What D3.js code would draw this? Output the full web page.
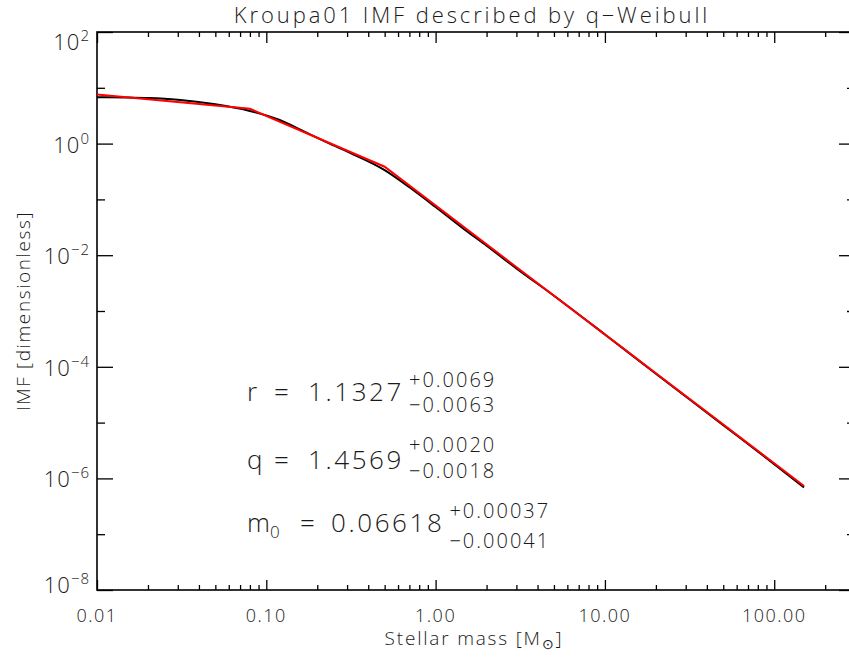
<!DOCTYPE html>
<meta charset="utf-8">
<style>
body { margin: 0; background: #fff; }
svg text { font-family: "Open Sans", "DejaVu Sans", sans-serif; font-weight: 300; fill: #1a1a1a; }
.tick line { stroke: #000; stroke-width: 1.3; }
.frame { fill: none; stroke: #000; stroke-width: 1.6; }
.fit { fill: none; stroke: #000; stroke-width: 2; }
.kroupa { fill: none; stroke: #ff0000; stroke-width: 2; }
.num { font-variant-numeric: tabular-nums; }
</style>
<body></body>
<script src="https://d3js.org/d3.v7.min.js"></script>
<script>
// Kroupa (2001) broken power law, red
var kroupaMass = [0.01, 0.08, 0.5, 150];
var kroupaImf  = [7.6, 4.2, 0.385, 7.3e-7];

// q-Weibull fit, black
var fitMass = [0.01, 0.015, 0.02, 0.03, 0.05, 0.08, 0.12, 0.16, 0.22, 0.31, 0.5, 0.7, 1.0, 1.5, 2.0, 3.0, 5, 10, 20, 50, 100, 150];
var fitImf  = [6.8, 6.7, 6.55, 6.1, 5.05, 3.85, 2.65, 1.76, 1.11, 0.69, 0.335, 0.165, 0.073, 0.028, 0.0148, 0.0058, 0.00188, 3.8e-4, 7.5e-5, 9.0e-6, 1.8e-6, 6.9e-7];

var xMajor = [0.01, 0.1, 1, 10, 100];
var xLabels = ["0.01", "0.10", "1.00", "10.00", "100.00"];
var yMajor = [1e2, 1, 1e-2, 1e-4, 1e-6, 1e-8];
var yExp = ["2", "0", "\u22122", "\u22124", "\u22126", "\u22128"];
var yMinor = [1e1, 1e-1, 1e-3, 1e-5, 1e-7];

var paramName  = ["r", "q", "m"];
var paramSub   = ["", "", "0"];
var paramValue = ["1.1327", "1.4569", "0.06618"];
var paramPlus  = ["+0.0069", "+0.0020", "+0.00037"];
var paramMinus = ["\u22120.0063", "\u22120.0018", "\u22120.00041"];

var width = 849, height = 658;
var pLeft = 97, pRight = 855, pTop = 32, pBottom = 590;

var svg = d3.select("body").append("svg")
    .attr("width", width)
    .attr("height", height);

var x = d3.scaleLog().domain([0.01, 300]).range([pLeft, pRight]);
var y = d3.scaleLog().domain([1e-8, 1e2]).range([pBottom, pTop]);

// minor x ticks: 2..9 in each decade
var xMinor = [];
[0.01, 0.1, 1, 10, 100].forEach(function(d) {
    for (var k = 2; k <= 9; k++) {
        if (d * k <= 300) xMinor.push(d * k);
    }
});

function tickAxis(axis, tv, size, tr) {
    var g = svg.append("g")
        .attr("transform", tr)
        .call(axis.tickValues(tv).tickSize(size).tickFormat(""));
    g.select(".domain").remove();
}

// bottom & top
tickAxis(d3.axisBottom(x), xMajor, -10, "translate(0," + pBottom + ")");
tickAxis(d3.axisBottom(x), xMinor, -5, "translate(0," + pBottom + ")");
tickAxis(d3.axisTop(x), xMajor, -11, "translate(0," + pTop + ")");
tickAxis(d3.axisTop(x), xMinor, -5, "translate(0," + pTop + ")");
// left & right
tickAxis(d3.axisLeft(y), yMajor, -16, "translate(" + pLeft + ",0)");
tickAxis(d3.axisLeft(y), yMinor, -8, "translate(" + pLeft + ",0)");
tickAxis(d3.axisRight(y), yMajor, -16, "translate(" + pRight + ",0)");
tickAxis(d3.axisRight(y), yMinor, -8, "translate(" + pRight + ",0)");

svg.append("rect")
    .attr("class", "frame")
    .attr("x", pLeft).attr("y", pTop)
    .attr("width", pRight - pLeft).attr("height", pBottom - pTop);

// x tick labels
svg.selectAll(".xlab")
    .data(xMajor)
    .enter().append("text")
    .attr("class", "xlab")
    .attr("x", function(d) { return x(d); })
    .attr("y", 622)
    .attr("text-anchor", "middle")
    .style("font-size", "18px")
    .style("letter-spacing", "1.5px")
    .text(function(d, i) { return xLabels[i]; });

// y tick labels, 10^n
var ylab = svg.selectAll(".ylab")
    .data(yMajor)
    .enter().append("text")
    .attr("class", "ylab")
    .attr("x", 90)
    .attr("y", function(d, i) {
        if (i === 0) return y(d) + 18;
        if (i === yMajor.length - 1) return y(d) + 3;
        return y(d) + 9;
    })
    .attr("text-anchor", "end")
    .style("font-size", "22px")
    .style("letter-spacing", "1px");
ylab.append("tspan").text("10");
ylab.append("tspan")
    .attr("dy", -9)
    .style("font-size", "15px")
    .text(function(d, i) { return yExp[i]; });

// curves
var line = d3.line()
    .x(function(d) { return x(d[0]); })
    .y(function(d) { return y(d[1]); });

svg.append("path")
    .datum(d3.zip(fitMass, fitImf))
    .attr("class", "fit")
    .attr("d", line.curve(d3.curveMonotoneX));

svg.append("path")
    .datum(d3.zip(kroupaMass, kroupaImf))
    .attr("class", "kroupa")
    .attr("d", line.curve(d3.curveLinear));

// title and axis titles
svg.append("text")
    .attr("x", 472).attr("y", 23)
    .attr("text-anchor", "middle")
    .style("font-size", "22px")
    .style("letter-spacing", "2.9px")
    .text("Kroupa01 IMF described by q\u2212Weibull");

var xt = svg.append("text")
    .attr("x", 474).attr("y", 645)
    .attr("text-anchor", "middle")
    .style("font-size", "19px")
    .style("letter-spacing", "1.8px");
xt.append("tspan").text("Stellar mass [M");
xt.append("tspan").attr("dy", 4).style("font-size", "14px").text("\u2299");
xt.append("tspan").attr("dy", -4).text("]");

svg.append("text")
    .attr("transform", "translate(30,311) rotate(-90)")
    .attr("text-anchor", "middle")
    .style("font-size", "19px")
    .style("letter-spacing", "1.6px")
    .text("IMF [dimensionless]");

// fit parameters
var rowBase = [401, 469, 532];
var eqX = [274, 274, 300];
var valX = [308, 308, 331];
var supOff = [-14, -17, -14];
var subOff = [11, 9, 16];

paramName.forEach(function(n, i) {
    var t = svg.append("text")
        .attr("x", 247).attr("y", rowBase[i])
        .style("font-size", "26px");
    t.append("tspan").text(n);
    if (paramSub[i]) {
        t.append("tspan").attr("dy", 6).style("font-size", "17px").text(paramSub[i]);
    }
    svg.append("text")
        .attr("x", eqX[i]).attr("y", rowBase[i])
        .style("font-size", "26px")
        .text("=");
    var v = svg.append("text")
        .attr("class", "num")
        .attr("x", valX[i]).attr("y", rowBase[i])
        .style("font-size", "26px")
        .style("letter-spacing", "2.6px")
        .text(paramValue[i]);
    var sx = valX[i] + v.node().getComputedTextLength() + 5;
    svg.append("text")
        .attr("class", "num")
        .attr("x", sx).attr("y", rowBase[i] + supOff[i])
        .style("font-size", "20px")
        .style("letter-spacing", "2px")
        .text(paramPlus[i]);
    svg.append("text")
        .attr("class", "num")
        .attr("x", sx).attr("y", rowBase[i] + subOff[i])
        .style("font-size", "20px")
        .style("letter-spacing", "2px")
        .text(paramMinus[i]);
});
</script>
